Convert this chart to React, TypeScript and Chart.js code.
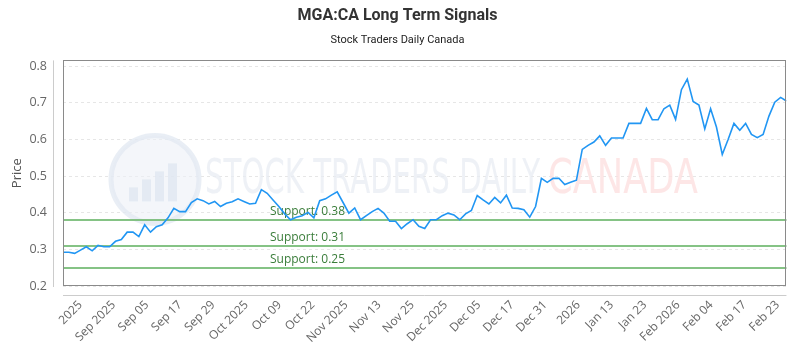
import React, { useEffect, useRef } from "react";
import { Chart, registerables } from "chart.js";

Chart.register(...registerables);

const titleText = "MGA:CA Long Term Signals";
const subtitleText = "Stock Traders Daily Canada";
const yAxisTitle = "Price";

const prices = [
  0.292, 0.292, 0.289, 0.298, 0.307, 0.296, 0.311, 0.307, 0.307, 0.322,
  0.327, 0.347, 0.347, 0.335, 0.367, 0.347, 0.362, 0.367, 0.386, 0.412,
  0.403, 0.403, 0.428, 0.438, 0.433, 0.424, 0.431, 0.417, 0.426, 0.430,
  0.438, 0.431, 0.424, 0.426, 0.463, 0.453, 0.435, 0.417, 0.397, 0.381,
  0.388, 0.392, 0.401, 0.386, 0.433, 0.438, 0.448, 0.457, 0.428, 0.399,
  0.413, 0.381, 0.392, 0.403, 0.412, 0.399, 0.377, 0.377, 0.357, 0.370,
  0.381, 0.363, 0.357, 0.381, 0.381, 0.392, 0.399, 0.394, 0.381, 0.397,
  0.406, 0.447, 0.435, 0.424, 0.442, 0.427, 0.448, 0.413, 0.412, 0.408,
  0.388, 0.417, 0.494, 0.483, 0.494, 0.494, 0.477, 0.483, 0.489, 0.573,
  0.584, 0.593, 0.610, 0.584, 0.604, 0.604, 0.604, 0.644, 0.644, 0.644,
  0.685, 0.654, 0.654, 0.684, 0.694, 0.655, 0.736, 0.765, 0.704, 0.694,
  0.629, 0.684, 0.634, 0.559, 0.600, 0.644, 0.625, 0.644, 0.614, 0.605,
  0.614, 0.664, 0.702, 0.715, 0.705,
];

const xTickLabels = [
  "2025", "Sep 2025", "Sep 05", "Sep 17", "Sep 29", "Oct 2025", "Oct 09",
  "Oct 22", "Nov 2025", "Nov 13", "Nov 25", "Dec 2025", "Dec 05", "Dec 17",
  "Dec 31", "2026", "Jan 13", "Jan 23", "Feb 2026", "Feb 04", "Feb 17", "Feb 23",
];
const xTickFirst = 3.0;
const xTickLast = 122.5;

const yTickValues = [0.2, 0.3, 0.4, 0.5, 0.6, 0.7, 0.8];
const yMin = 0.2;
const yMax = 0.816;

const supportLevels = [0.38, 0.31, 0.25];

const watermarkMain = "STOCK TRADERS DAILY";
const watermarkSub = "CANADA";

export default function App() {
  const ref = useRef<HTMLCanvasElement | null>(null);

  useEffect(() => {
    document.body.style.margin = "0";
    document.body.style.overflow = "hidden";
    const canvas = ref.current;
    if (!canvas) return;

    const decor = {
      id: "decor",
      beforeDatasetsDraw(chart: any) {
        const { ctx, chartArea: a, scales } = chart;
        const y = scales.y;
        ctx.save();
        // watermark logo
        const cx = a.left + 92;
        const cy = a.top + 119;
        const r = 44;
        ctx.beginPath();
        ctx.arc(cx, cy, r, 0, Math.PI * 2);
        ctx.fillStyle = "rgba(236,240,247,0.6)";
        ctx.fill();
        ctx.lineWidth = 5;
        ctx.strokeStyle = "rgba(226,232,242,0.75)";
        ctx.stroke();
        ctx.fillStyle = "rgba(222,229,240,0.75)";
        const bars = [14, 22, 30, 38];
        bars.forEach((h, k) => {
          ctx.fillRect(cx - 26 + k * 13, cy + 22 - h, 9, h);
        });
        // watermark text
        ctx.textBaseline = "middle";
        ctx.textAlign = "left";
        ctx.font = "48px 'DejaVu Sans'";
        const mainW = ctx.measureText(watermarkMain).width;
        ctx.save();
        ctx.translate(a.left + 142, a.top + 120);
        ctx.scale(335 / mainW, 1);
        ctx.fillStyle = "rgba(232,236,243,0.75)";
        ctx.fillText(watermarkMain, 0, 0);
        ctx.restore();
        const subW = ctx.measureText(watermarkSub).width;
        ctx.save();
        ctx.translate(a.left + 485, a.top + 120);
        ctx.scale(150 / subW, 1);
        ctx.fillStyle = "rgba(253,224,224,0.8)";
        ctx.fillText(watermarkSub, 0, 0);
        ctx.restore();

        // support lines
        supportLevels.forEach((v) => {
          const py = Math.round(y.getPixelForValue(v));
          ctx.beginPath();
          ctx.moveTo(a.left, py);
          ctx.lineTo(a.right, py);
          ctx.lineWidth = 2;
          ctx.strokeStyle = "rgba(120,188,120,0.9)";
          ctx.stroke();
          ctx.font = "12px 'Open Sans'";
          ctx.fillStyle = "#3a7d3a";
          ctx.textBaseline = "alphabetic";
          ctx.textAlign = "left";
          ctx.fillText("Support: " + v.toFixed(2), a.left + 207, py - 5);
        });
        ctx.restore();
      },
      afterDraw(chart: any) {
        const { ctx, chartArea: a } = chart;
        ctx.save();
        ctx.lineWidth = 1;
        ctx.strokeStyle = "#8a8a8a";
        ctx.strokeRect(Math.round(a.left) + 0.5, Math.round(a.top) + 0.5,
          Math.round(a.right - a.left) - 1, Math.round(a.bottom - a.top) - 1);
        ctx.strokeStyle = "#cccccc";
        ctx.beginPath();
        ctx.moveTo(Math.round(a.left) - 9.5, a.top);
        ctx.lineTo(Math.round(a.left) - 9.5, a.bottom + 1);
        ctx.stroke();
        ctx.beginPath();
        ctx.moveTo(a.left, Math.round(a.bottom) + 9.5);
        ctx.lineTo(a.right, Math.round(a.bottom) + 9.5);
        ctx.stroke();
        ctx.restore();
      },
    };

    const chart = new Chart(canvas, {
      type: "line",
      data: {
        datasets: [
          {
            data: prices.map((v, i) => ({ x: i, y: v })),
            borderColor: "#2196f3",
            borderWidth: 1.6,
            pointRadius: 0,
            fill: false,
            tension: 0,
          },
        ],
      },
      options: {
        animation: false,
        responsive: true,
        maintainAspectRatio: false,
        layout: { padding: { left: 5, right: 10, top: 0, bottom: 0 } },
        plugins: {
          legend: { display: false },
          tooltip: { enabled: false },
          title: {
            display: true,
            text: titleText,
            color: "#333333",
            font: { family: "Roboto", size: 16, weight: "bold" },
            padding: { top: 6, bottom: 4 },
          },
          subtitle: {
            display: true,
            text: subtitleText,
            color: "#222222",
            font: { family: "Roboto", size: 11, weight: "normal" },
            padding: { top: 4, bottom: 14 },
          },
        },
        scales: {
          x: {
            type: "linear",
            min: 0,
            max: prices.length - 1,
            grid: { display: false, drawTicks: false },
            border: { display: false },
            afterBuildTicks(scale: any) {
              const step = (xTickLast - xTickFirst) / (xTickLabels.length - 1);
              scale.ticks = xTickLabels.map((_, k) => ({ value: xTickFirst + k * step }));
            },
            afterFit(scale: any) {
              scale.height = 64;
            },
            ticks: {
              autoSkip: false,
              maxRotation: 45,
              minRotation: 45,
              padding: 12,
              color: "#666666",
              font: { family: "Open Sans", size: 12 },
              callback: (_v: any, idx: number) => xTickLabels[idx],
            },
          },
          y: {
            min: yMin,
            max: yMax,
            afterBuildTicks(scale: any) {
              scale.ticks = yTickValues.map((v) => ({ value: v }));
            },
            afterFit(scale: any) {
              scale.width = 58;
            },
            grid: { color: "#e6e6e6", drawTicks: false, lineWidth: 1 },
            border: { display: false, dash: [3, 3] },
            ticks: {
              padding: 16,
              color: "#666666",
              font: { family: "Open Sans", size: 12.5 },
              callback: (v: any) => Number(v).toFixed(1),
            },
            title: {
              display: true,
              text: yAxisTitle,
              color: "#555555",
              font: { family: "Open Sans", size: 13 },
              padding: { top: 4, bottom: 4 },
            },
          },
        },
      },
      plugins: [decor],
    } as any);

    return () => chart.destroy();
  }, []);

  return (
    <div style={{ position: "relative", width: 800, height: 350 }}>
      <canvas ref={ref} />
    </div>
  );
}
